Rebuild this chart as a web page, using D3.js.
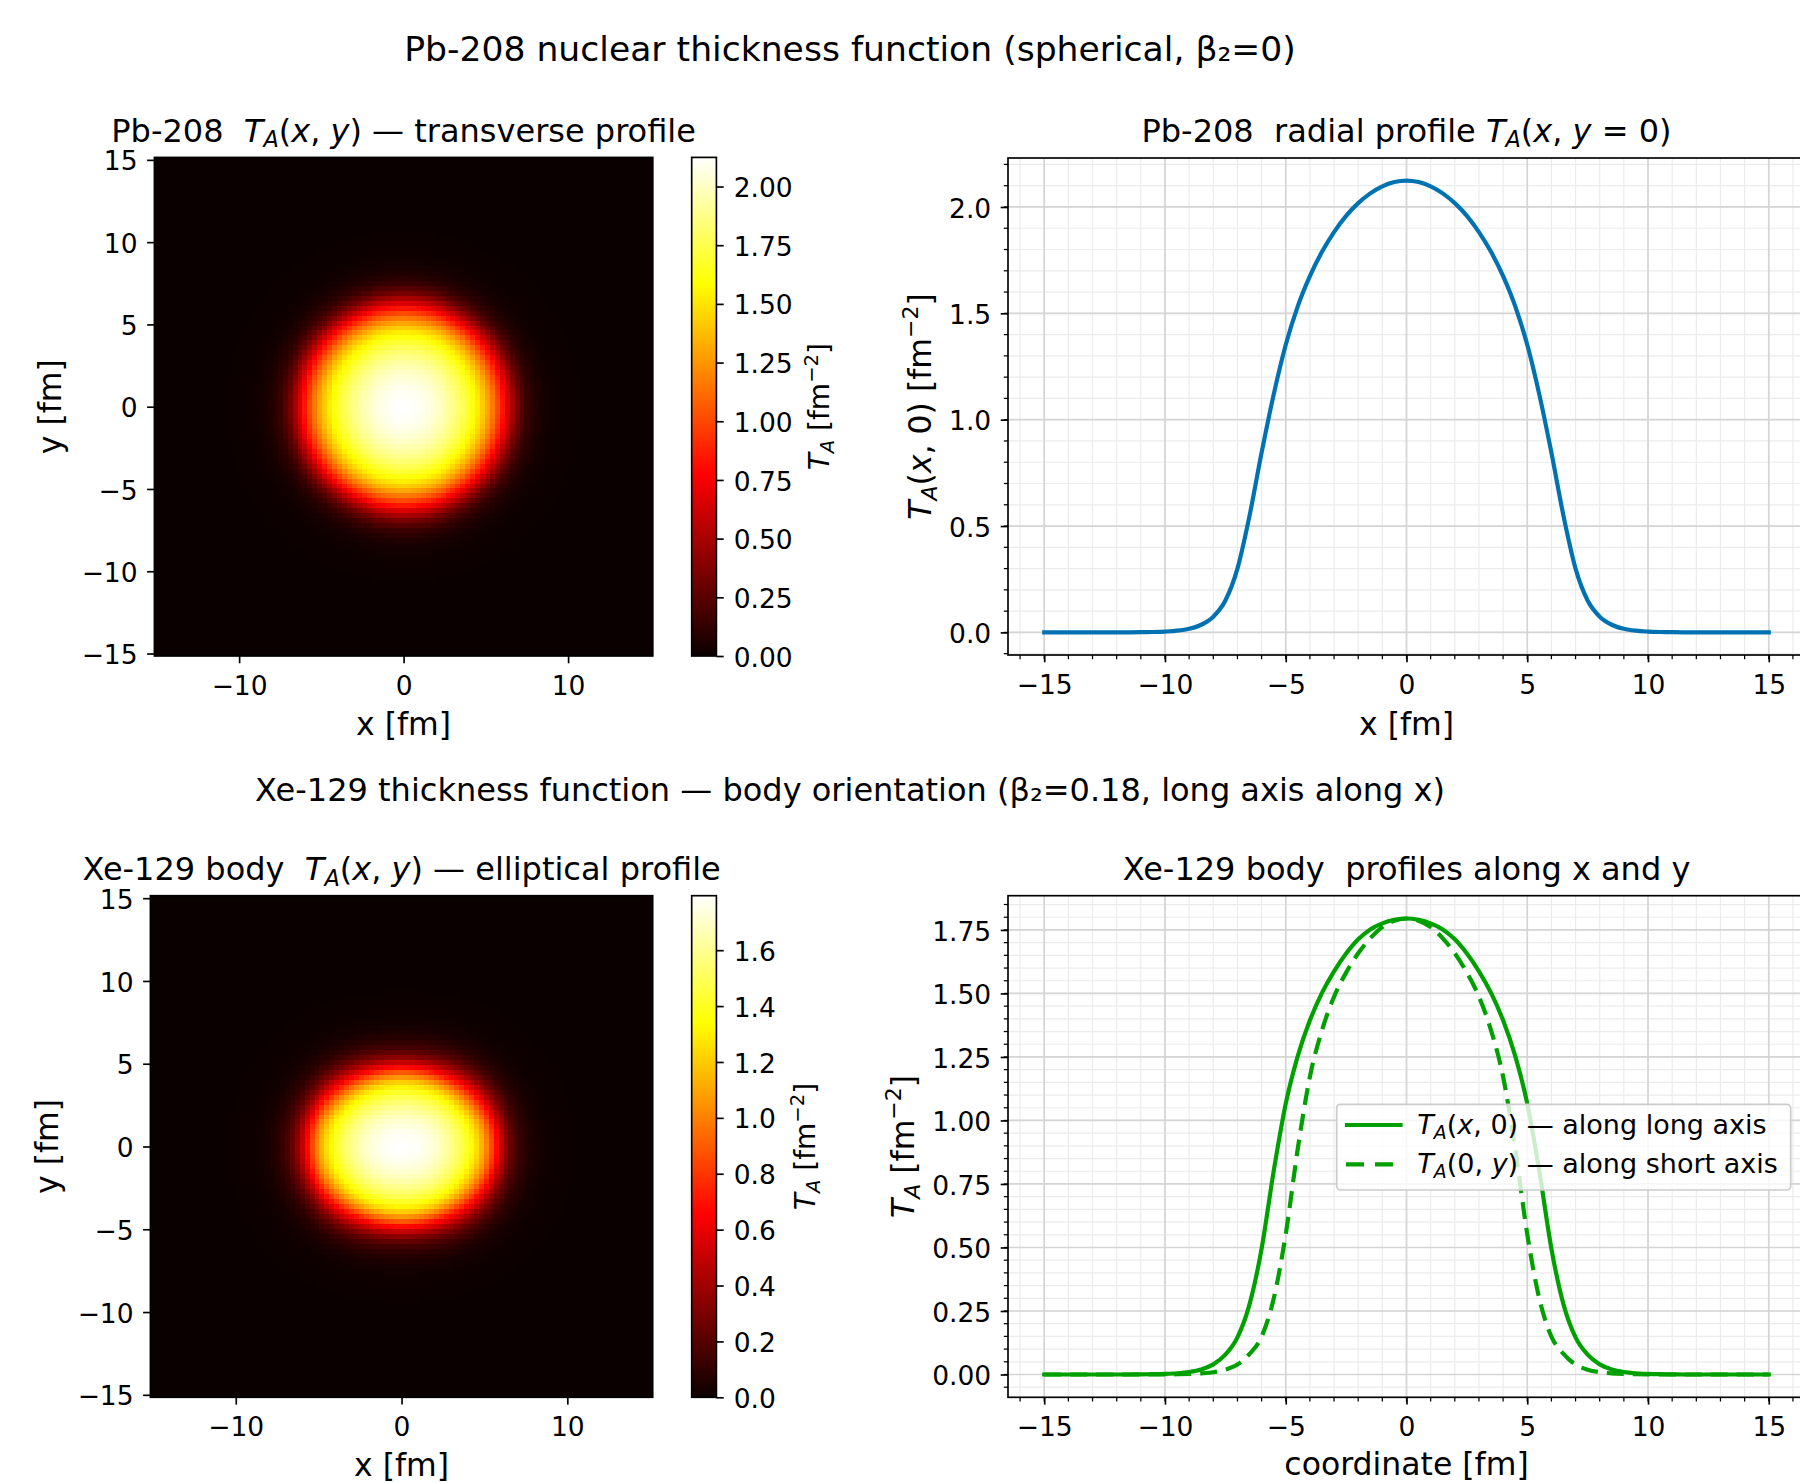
<!DOCTYPE html>
<html><head><meta charset="utf-8">
<script src="https://cdn.jsdelivr.net/npm/d3@7"></script>
<style>
html,body{margin:0;padding:0;background:#fff;}
svg{display:block;font-family:"DejaVu Sans",sans-serif;}
text{white-space:pre;}
</style></head><body>
<svg id="fig" width="1800" height="1482" xmlns="http://www.w3.org/2000/svg"></svg>
<script>
// ================= DATA =================
// radial coordinate (fm) at which the profiles were read
const radiusFm = [0,0.5,1,1.5,2,2.5,3,3.5,4,4.5,5,5.5,6,6.5,7,7.5,8,8.5,9,9.5,10,10.5,11,11.5,12,12.5,13,13.5,14,14.5,15];
// Pb-208 thickness T_A(r) [fm^-2]
const pbThickness = [2.124,2.117,2.097,2.064,2.018,1.958,1.882,1.789,1.675,1.534,1.352,1.118,0.845,0.548,0.300,0.150,0.074,0.036,0.017,0.008,0.004,0.002,0.001,0.0005,0,0,0,0,0,0,0];
// Xe-129 body frame: along long (x) axis and short (y) axis
const xeLongAxis = [1.795,1.790,1.776,1.752,1.713,1.657,1.587,1.502,1.394,1.254,1.066,0.800,0.495,0.276,0.146,0.078,0.040,0.020,0.010,0.005,0.0025,0.0012,0.0006,0,0,0,0,0,0,0,0];
const xeShortAxis = [1.795,1.786,1.761,1.717,1.658,1.582,1.487,1.355,1.172,0.890,0.552,0.298,0.149,0.081,0.039,0.019,0.009,0.0045,0.002,0.001,0.0005,0,0,0,0,0,0,0,0,0,0];

// tick labels
const heatXTicks = [-10,0,10];
const heatYTicks = [-15,-10,-5,0,5,10,15];
const profXTicks = [-15,-10,-5,0,5,10,15];
const pbYTicks = [0,0.5,1.0,1.5,2.0];
const xeYTicks = [0,0.25,0.5,0.75,1.0,1.25,1.5,1.75];
const pbCbTicks = [0,0.25,0.5,0.75,1.0,1.25,1.5,1.75,2.0];
const xeCbTicks = [0,0.2,0.4,0.6,0.8,1.0,1.2,1.4,1.6];

// matplotlib "hot" colormap control points
const hotStops = [0,0.365079,0.746032,1];
const hotColors = ["#0b0000","#ff0000","#ffff00","#ffffff"];

// ================= SETUP =================
const svg = d3.select("#fig");
const TICK = 26.5, LAB = 31.5, TITLE = 32, CBLAB = 28, LEG = 27;
const gridCoords = d3.range(101).map(i => +(-15 + 0.3*i).toFixed(3));
const half = 0.15;

function profileAt(arr, r){
  const i = d3.bisectRight(radiusFm, r) - 1;
  if (i >= radiusFm.length-1) return arr[arr.length-1];
  const t = (r - radiusFm[i])/(radiusFm[i+1]-radiusFm[i]);
  return arr[i] + t*(arr[i+1]-arr[i]);
}
function mirrored(arr){
  const pts=[];
  for(let i=radiusFm.length-1;i>0;i--) pts.push([-radiusFm[i],arr[i]]);
  for(let i=0;i<radiusFm.length;i++) pts.push([radiusFm[i],arr[i]]);
  return pts;
}
function hotScale(max){
  return d3.scaleLinear().domain(hotStops.map(s=>s*max)).range(hotColors).interpolate(d3.interpolateRgb).clamp(true);
}
// math-like text with italics/sub/superscripts
function mtext(sel, parts, F){
  let shift = 0;
  parts.forEach(([s,k]) => {
    const t = sel.append("tspan").text(s);
    let target = 0, size = F, style = "normal";
    if (k==="i") style = "italic";
    if (k==="sub"){ target = 0.18*F; size = 0.7*F; style = "italic"; }
    if (k==="sup"){ target = -0.4*F; size = 0.7*F; }
    t.attr("font-size", size).attr("font-style", style);
    const dy = target - shift;
    if (dy) t.attr("dy", dy);
    shift = target;
  });
  return sel;
}
function addText(x, y, parts, F, opts={}){
  const t = svg.append("text")
    .attr("text-anchor", opts.anchor || "middle")
    .attr("font-size", F).attr("fill", "#000");
  if (opts.rotate) t.attr("transform", `translate(${x},${y}) rotate(-90)`);
  else t.attr("x", x).attr("y", y);
  if (typeof parts === "string") t.text(parts); else mtext(t, parts, F);
  return t;
}
function styleAxis(g, fs){
  g.select(".domain").remove();
  g.selectAll(".tick line").attr("stroke","#000").attr("stroke-width",1.67);
  g.selectAll(".tick text").attr("font-size", fs).attr("fill","#000").attr("font-family",'"DejaVu Sans",sans-serif');
}
function bottomAxis(scale, ticks, yPos, fmt){
  const g = svg.append("g").attr("transform",`translate(0,${yPos})`)
    .call(d3.axisBottom(scale).tickValues(ticks).tickSize(7.3).tickPadding(7.3).tickSizeOuter(0).tickFormat(fmt));
  styleAxis(g, TICK);
  g.selectAll(".tick text").attr("dy", null).attr("y", 39);
  return g;
}
function leftAxis(scale, ticks, xPos, fmt){
  const g = svg.append("g").attr("transform",`translate(${xPos},0)`)
    .call(d3.axisLeft(scale).tickValues(ticks).tickSize(7.3).tickPadding(9.5).tickSizeOuter(0).tickFormat(fmt));
  styleAxis(g, TICK);
  g.selectAll(".tick text").attr("dy","0.38em");
  return g;
}
function rightAxis(scale, ticks, xPos, fmt){
  const g = svg.append("g").attr("transform",`translate(${xPos},0)`)
    .call(d3.axisRight(scale).tickValues(ticks).tickSize(7.3).tickPadding(10).tickSizeOuter(0).tickFormat(fmt));
  styleAxis(g, TICK);
  g.selectAll(".tick text").attr("dy","0.38em");
  return g;
}

// ================= HEATMAP PANELS =================
function heatPanel(cfg){
  const xs = d3.scaleLinear([-15-half, 15+half], [cfg.x0, cfg.x1]);
  const ys = d3.scaleLinear([-15-half, 15+half], [cfg.y1, cfg.y0]);
  const color = hotScale(cfg.max);
  const cells = [];
  gridCoords.forEach(gy => gridCoords.forEach(gx => cells.push({gx, gy, v: cfg.value(gx, gy)})));
  svg.append("g").selectAll("rect").data(cells).join("rect")
    .attr("x", d => xs(d.gx-half)).attr("y", d => ys(d.gy+half))
    .attr("width", d => xs(d.gx+half)-xs(d.gx-half)+0.3)
    .attr("height", d => ys(d.gy-half)-ys(d.gy+half)+0.3)
    .attr("fill", d => color(d.v)).attr("shape-rendering","crispEdges");
  svg.append("rect").attr("x",cfg.x0).attr("y",cfg.y0).attr("width",cfg.x1-cfg.x0).attr("height",cfg.y1-cfg.y0)
    .attr("fill","none").attr("stroke","#000").attr("stroke-width",1.67);
  bottomAxis(xs, heatXTicks, cfg.y1, d3.format("d"));
  leftAxis(ys, heatYTicks, cfg.x0, d3.format("d"));

  // colorbar
  const gid = "grad"+cfg.id;
  const grad = svg.append("defs").append("linearGradient").attr("id",gid)
    .attr("x1",0).attr("y1",1).attr("x2",0).attr("y2",0);
  hotStops.forEach((s,i)=> grad.append("stop").attr("offset",s).attr("stop-color",hotColors[i]));
  const cs = d3.scaleLinear([0,cfg.max],[cfg.y1, cfg.y0]);
  svg.append("rect").attr("x",cfg.cbx0).attr("y",cfg.y0).attr("width",cfg.cbx1-cfg.cbx0).attr("height",cfg.y1-cfg.y0)
    .attr("fill",`url(#${gid})`).attr("stroke","#000").attr("stroke-width",1.67);
  rightAxis(cs, cfg.cbTicks, cfg.cbx1, cfg.cbFmt);

  const cy = (cfg.y0+cfg.y1)/2, cx = (cfg.x0+cfg.x1)/2;
  addText(cfg.cbLabelX, cy, [["T","i"],["A","sub"],[" [fm",""],["−2","sup"],["]",""]], CBLAB, {rotate:true});
  addText(cfg.yLabelX, cy, "y [fm]", LAB, {rotate:true});
  addText(cx, cfg.xLabelY, "x [fm]", LAB);
  addText(cx, cfg.titleY, cfg.title, TITLE);
}

heatPanel({
  id:"A", x0:154.4, x1:652.8, y0:157.4, y1:656, max:d3.max(pbThickness),
  value:(x,y)=>profileAt(pbThickness, Math.hypot(x,y)),
  cbx0:691.7, cbx1:716.4, cbTicks:pbCbTicks, cbFmt:d3.format(".2f"), cbLabelX:829,
  yLabelX:61, xLabelY:734.5, titleY:141.5,
  title:[["Pb-208  ",""],["T","i"],["A","sub"],["(",""],["x","i"],[", ",""],["y","i"],[") — transverse profile",""]]
});
heatPanel({
  id:"C", x0:150.4, x1:652.7, y0:895.7, y1:1397.3, max:d3.max(xeLongAxis),
  value:(x,y)=>{
    const r = Math.hypot(x,y);
    if (r === 0) return xeLongAxis[0];
    const c2 = (x*x)/(r*r), s2 = 1-c2;
    return profileAt(xeLongAxis, r)*c2 + profileAt(xeShortAxis, r)*s2;
  },
  cbx0:691.7, cbx1:716.4, cbTicks:xeCbTicks, cbFmt:d3.format(".1f"), cbLabelX:815,
  yLabelX:58, xLabelY:1476, titleY:880,
  title:[["Xe-129 body  ",""],["T","i"],["A","sub"],["(",""],["x","i"],[", ",""],["y","i"],[") — elliptical profile",""]]
});

// ================= PROFILE PANELS =================
function profilePanel(cfg){
  const xs = d3.scaleLinear([-16.5,16.5],[cfg.x0,cfg.x1]);
  const ys = d3.scaleLinear([-0.05*cfg.max, 1.05*cfg.max],[cfg.y1,cfg.y0]);
  const clipId = "clip"+cfg.id;
  svg.append("defs").append("clipPath").attr("id",clipId).append("rect")
    .attr("x",cfg.x0).attr("y",cfg.y0).attr("width",cfg.x1-cfg.x0).attr("height",cfg.y1-cfg.y0);
  const gg = svg.append("g").attr("clip-path",`url(#${clipId})`);
  const xMinor = d3.range(-16,17,1);
  const yMinor = d3.range(Math.ceil(-0.05*cfg.max/cfg.minorStep), Math.floor(1.05*cfg.max/cfg.minorStep)+1).map(k=>k*cfg.minorStep);
  // minor grid
  gg.selectAll("line.vmin").data(xMinor).join("line").attr("x1",d=>xs(d)).attr("x2",d=>xs(d)).attr("y1",cfg.y0).attr("y2",cfg.y1)
    .attr("stroke","#ececec").attr("stroke-width",1.2);
  gg.selectAll("line.hmin").data(yMinor).join("line").attr("y1",d=>ys(d)).attr("y2",d=>ys(d)).attr("x1",cfg.x0).attr("x2",cfg.x1)
    .attr("stroke","#ececec").attr("stroke-width",1.2);
  // major grid
  gg.selectAll("line.vmaj").data(profXTicks).join("line").attr("x1",d=>xs(d)).attr("x2",d=>xs(d)).attr("y1",cfg.y0).attr("y2",cfg.y1)
    .attr("stroke","#d5d5d5").attr("stroke-width",1.7);
  gg.selectAll("line.hmaj").data(cfg.yTicks).join("line").attr("y1",d=>ys(d)).attr("y2",d=>ys(d)).attr("x1",cfg.x0).attr("x2",cfg.x1)
    .attr("stroke","#d5d5d5").attr("stroke-width",1.7);
  // curves
  const line = d3.line().x(d=>xs(d[0])).y(d=>ys(d[1])).curve(d3.curveMonotoneX);
  cfg.series.forEach(s=>{
    const p = gg.append("path").attr("d", line(mirrored(s.values))).attr("fill","none")
      .attr("stroke", s.color).attr("stroke-width", 4.2).attr("stroke-linejoin","round");
    if (s.dash) p.attr("stroke-dasharray", s.dash).attr("stroke-linecap","butt");
    else p.attr("stroke-linecap","square");
  });
  // spines
  svg.append("rect").attr("x",cfg.x0).attr("y",cfg.y0).attr("width",cfg.x1-cfg.x0).attr("height",cfg.y1-cfg.y0)
    .attr("fill","none").attr("stroke","#000").attr("stroke-width",1.67);
  // minor ticks
  svg.append("g").selectAll("line").data(xMinor).join("line")
    .attr("x1",d=>xs(d)).attr("x2",d=>xs(d)).attr("y1",cfg.y1).attr("y2",cfg.y1+4.2).attr("stroke","#000").attr("stroke-width",1.25);
  svg.append("g").selectAll("line").data(yMinor).join("line")
    .attr("y1",d=>ys(d)).attr("y2",d=>ys(d)).attr("x1",cfg.x0).attr("x2",cfg.x0-4.2).attr("stroke","#000").attr("stroke-width",1.25);
  bottomAxis(xs, profXTicks, cfg.y1, d3.format("d"));
  leftAxis(ys, cfg.yTicks, cfg.x0, cfg.yFmt);
  const cx = 1406.5, cy = (cfg.y0+cfg.y1)/2;
  addText(cx, cfg.titleY, cfg.title, TITLE);
  addText(cx, cfg.xLabelY, cfg.xLabel, LAB);
  addText(cfg.yLabelX, cy, cfg.yLabel, LAB, {rotate:true});
  return {xs, ys};
}

profilePanel({
  id:"B", x0:1008, x1:1805, y0:158, y1:655, max:d3.max(pbThickness), minorStep:0.1,
  yTicks:pbYTicks, yFmt:d3.format(".1f"),
  series:[{values:pbThickness, color:"#0072b2"}],
  titleY:141.5, xLabelY:734.5, yLabelX:931, xLabel:"x [fm]",
  title:[["Pb-208  radial profile ",""],["T","i"],["A","sub"],["(",""],["x","i"],[", ",""],["y","i"],[" = 0)",""]],
  yLabel:[["T","i"],["A","sub"],["(",""],["x","i"],[", 0) [fm",""],["−2","sup"],["]",""]]
});
profilePanel({
  id:"D", x0:1008, x1:1805, y0:895.7, y1:1397.3, max:d3.max(xeLongAxis), minorStep:0.05,
  yTicks:xeYTicks, yFmt:d3.format(".2f"),
  series:[{values:xeLongAxis, color:"#00a000"},{values:xeShortAxis, color:"#00a000", dash:"17,9"}],
  titleY:880, xLabelY:1474.5, yLabelX:914, xLabel:"coordinate [fm]",
  title:"Xe-129 body  profiles along x and y",
  yLabel:[["T","i"],["A","sub"],[" [fm",""],["−2","sup"],["]",""]]
});

// legend
const lg = svg.append("g");
lg.append("rect").attr("x",1336.7).attr("y",1104.3).attr("width",454).attr("height",85.7).attr("rx",4)
  .attr("fill","#fff").attr("fill-opacity",0.8).attr("stroke","#cccccc").attr("stroke-width",1.7);
lg.append("line").attr("x1",1347).attr("x2",1400.5).attr("y1",1125).attr("y2",1125)
  .attr("stroke","#00a000").attr("stroke-width",4.2).attr("stroke-linecap","square");
lg.append("line").attr("x1",1346).attr("x2",1402).attr("y1",1164.3).attr("y2",1164.3)
  .attr("stroke","#00a000").attr("stroke-width",4.2).attr("stroke-dasharray","18,11");
addText(1417.3, 1134.3, [["T","i"],["A","sub"],["(",""],["x","i"],[", 0) — along long axis",""]], LEG, {anchor:"start"});
addText(1417.3, 1173.3, [["T","i"],["A","sub"],["(0, ",""],["y","i"],[") — along short axis",""]], LEG, {anchor:"start"});

// super titles
addText(850, 61, "Pb-208 nuclear thickness function (spherical, β₂=0)", 34.6);
addText(850, 801, "Xe-129 thickness function — body orientation (β₂=0.18, long axis along x)", 32);
</script>
</body></html>
